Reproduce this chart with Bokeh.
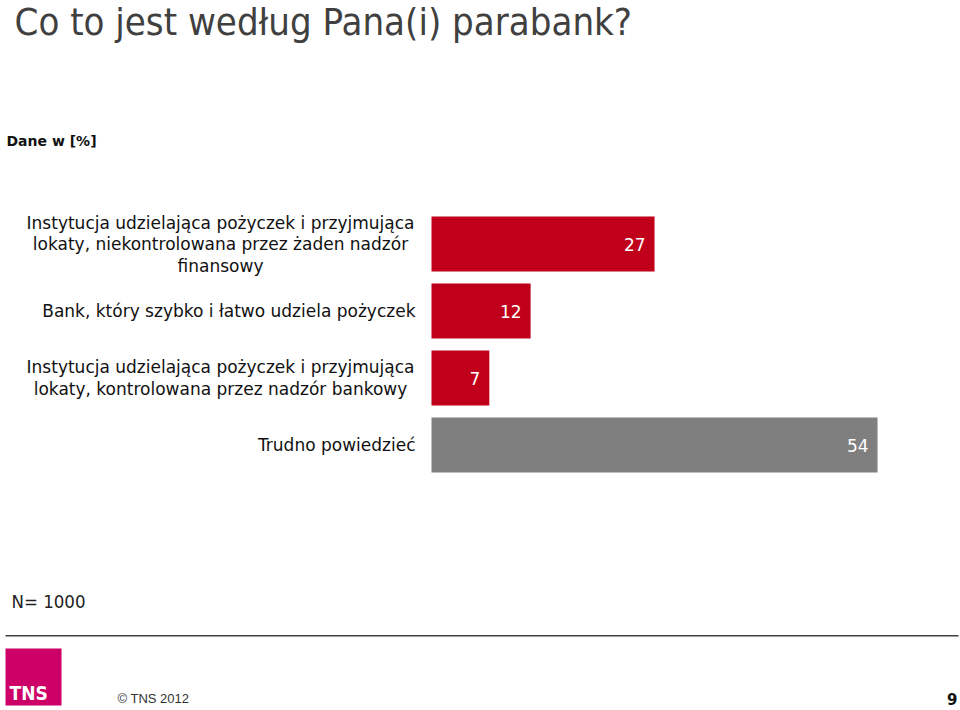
from bokeh.plotting import figure
from bokeh.models import Range1d, Label, BoxAnnotation, ColumnDataSource
from bokeh.core.properties import value
from bokeh.embed import file_html
from bokeh.resources import INLINE

# ---- data ----
categories = [
    "Instytucja udzielająca pożyczek i przyjmująca\nlokaty, niekontrolowana przez żaden nadzór\nfinansowy",
    "Bank, który szybko i łatwo udziela pożyczek",
    "Instytucja udzielająca pożyczek i przyjmująca\nlokaty, kontrolowana przez nadzór bankowy",
    "Trudno powiedzieć",
]
values = [27, 12, 7, 54]
colors = ["#C0001A", "#C0001A", "#C0001A", "#7F7F7F"]

title_text = "Co to jest według Pana(i) parabank?"
unit_text = "Dane w [%]"
base_text = "N= 1000"
footer_text = "© TNS 2012"
page_text = "9"

# ---- layout ----
W, H = 960, 710
PX_PER_UNIT = 8.26   # horizontal scale, pixels per percent
X0 = 431             # pixel where value 0 sits
ROW = 67.0           # pixels between bar centres
Y0 = 243.5           # pixel of first bar centre
BAR_H = 55.0 / ROW

p = figure(width=W, height=H, output_backend="svg", toolbar_location=None,
           min_border=0, min_border_left=0, min_border_right=0,
           min_border_top=0, min_border_bottom=0,
           x_range=Range1d(-X0 / PX_PER_UNIT, (W - X0) / PX_PER_UNIT),
           y_range=Range1d((H - Y0) / ROW, -Y0 / ROW))
p.axis.visible = False
p.grid.visible = False
p.outline_line_color = None
p.background_fill_color = "white"
p.border_fill_color = "white"

ypos = list(range(len(categories)))
src = ColumnDataSource(dict(y=ypos, v=values, c=colors,
                            t=[str(v) for v in values]))
p.hbar(y="y", left=0, right="v", height=BAR_H, fill_color="c",
       line_color=None, source=src)
p.text(x="v", y="y", text="t", source=src, x_offset=-9,
       text_align="right", text_baseline="middle", text_color="white",
       text_font=value("DejaVu Sans"), text_font_size="17px")

# category labels (each line separately so that multi-line blocks centre)
LINE = 21.5 / ROW
mx, my, mt = [], [], []
sx, sy, st = [], [], []
for i, cat in enumerate(categories):
    lines = cat.split("\n")
    n = len(lines)
    if n == 1:
        sx.append(0); sy.append(i); st.append(lines[0])
    else:
        for k, ln in enumerate(lines):
            mx.append(0); my.append(i + (k - (n - 1) / 2) * LINE); mt.append(ln)
LAB_FONT = "17px"
p.text(x=mx, y=my, text=mt, x_offset=-211, text_align="center",
       text_baseline="middle", text_color="#111111",
       text_font=value("DejaVu Sans"), text_font_size=LAB_FONT)
p.text(x=sx, y=sy, text=st, x_offset=-16, text_align="right",
       text_baseline="middle", text_color="#111111",
       text_font=value("DejaVu Sans"), text_font_size=LAB_FONT)

# ---- annotations in screen space (y given as pixel from top, middle of text) ----
def lab(text, x, y_px, size, color="#222222", font="Liberation Sans",
        style="normal", align="left"):
    p.add_layout(Label(x=x, y=H - y_px, x_units="screen", y_units="screen",
                       text=text, text_font_size=size, text_color=color,
                       text_font=font, text_font_style=style,
                       text_align=align, text_baseline="middle"))

COND = "DejaVu Sans Condensed, Liberation Sans Narrow, DejaVu Sans"
lab(title_text, 14, 21, "38px", color="#404040", font=COND)
lab(unit_text, 6, 140, "14px", color="#111111", font="DejaVu Sans", style="bold")
lab(base_text, 11, 601, "18.5px", color="#222222", font=COND)

p.add_layout(BoxAnnotation(left=5, right=958, bottom=H - 636, top=H - 634.5,
                           left_units="screen", right_units="screen",
                           bottom_units="screen", top_units="screen",
                           fill_color="#404040", fill_alpha=1, line_color=None))
p.add_layout(BoxAnnotation(left=5, right=61, bottom=H - 705, top=H - 648,
                           left_units="screen", right_units="screen",
                           bottom_units="screen", top_units="screen",
                           fill_color="#CC0066", fill_alpha=1, line_color=None))
lab("TNS", 9, 692, "19px", color="white", font=COND, style="bold")
lab(footer_text, 117, 698, "13px", color="#333333", font="Liberation Sans")
lab(page_text, 957, 698, "15px", color="#111111", font="DejaVu Sans",
    style="bold", align="right")

open("out.html", "w").write(file_html(p, INLINE))
